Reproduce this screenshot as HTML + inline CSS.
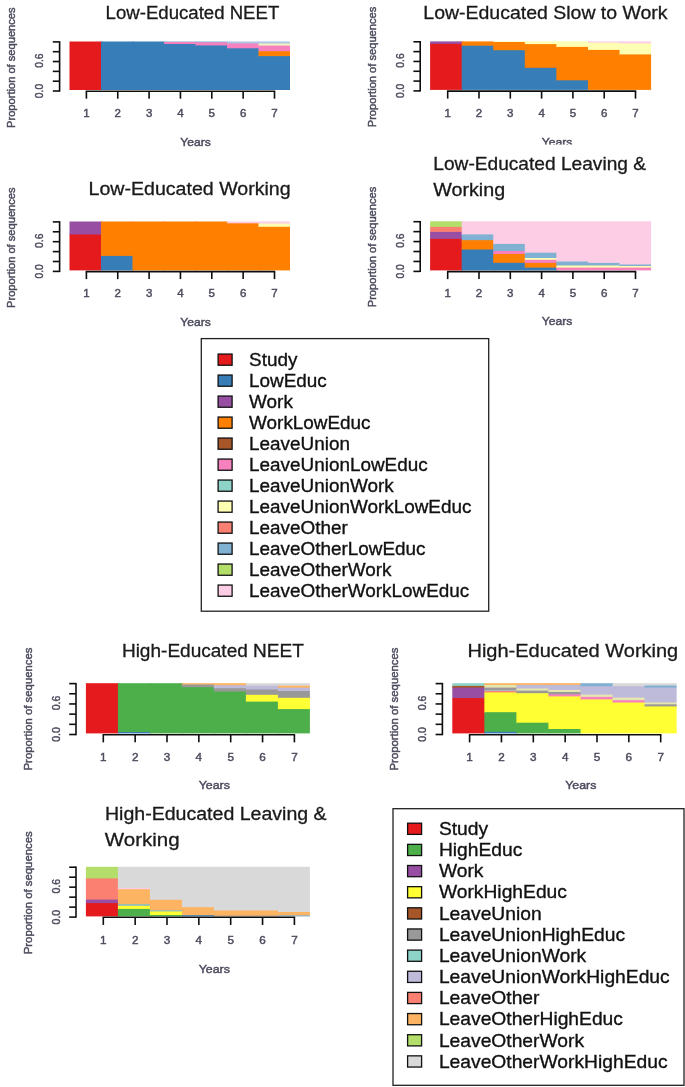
<!DOCTYPE html>
<html lang="en"><head><meta charset="utf-8"><title>Sequence state distribution plots</title>
<style>
html,body{margin:0;padding:0;background:#fff;}
body{width:685px;height:1087px;overflow:hidden;}
svg{display:block;font-family:"Liberation Sans",Arial,Helvetica,sans-serif;}
</style></head><body>
<svg width="685" height="1087" viewBox="0 0 685 1087">
<rect width="685" height="1087" fill="#fff"/>
<defs><clipPath id="cy2"><rect x="520" y="130" width="80" height="14.6"/></clipPath><filter id="b1" filterUnits="userSpaceOnUse" x="0" y="0" width="685" height="1087"><feGaussianBlur stdDeviation="0.45"/></filter><filter id="b2" filterUnits="userSpaceOnUse" x="0" y="0" width="685" height="1087"><feGaussianBlur stdDeviation="0.35"/></filter></defs>
<g><rect x="69.50" y="41.50" width="32.50" height="48.50" fill="#E41A1C"/>
<rect x="101.00" y="41.50" width="32.50" height="48.50" fill="#377EB8"/>
<rect x="132.50" y="41.50" width="32.50" height="48.50" fill="#377EB8"/>
<rect x="164.00" y="41.50" width="32.50" height="1.30" fill="#80B1D3"/>
<rect x="164.00" y="42.00" width="32.50" height="2.80" fill="#F781BF"/>
<rect x="164.00" y="44.00" width="32.50" height="46.00" fill="#377EB8"/>
<rect x="195.50" y="41.50" width="32.50" height="1.60" fill="#80B1D3"/>
<rect x="195.50" y="42.30" width="32.50" height="3.90" fill="#F781BF"/>
<rect x="195.50" y="45.40" width="32.50" height="44.60" fill="#377EB8"/>
<rect x="227.00" y="41.50" width="32.50" height="2.70" fill="#A9C4E4"/>
<rect x="227.00" y="43.40" width="32.50" height="5.70" fill="#F781BF"/>
<rect x="227.00" y="48.30" width="32.50" height="41.70" fill="#377EB8"/>
<rect x="258.50" y="41.50" width="31.50" height="2.70" fill="#A9C4E4"/>
<rect x="258.50" y="43.40" width="31.50" height="3.00" fill="#EEF2C0"/>
<rect x="258.50" y="45.60" width="31.50" height="6.40" fill="#F781BF"/>
<rect x="258.50" y="51.20" width="31.50" height="5.70" fill="#FF7F00"/>
<rect x="258.50" y="56.10" width="31.50" height="33.90" fill="#377EB8"/>
<rect x="430.10" y="41.40" width="32.57" height="3.30" fill="#984EA3"/>
<rect x="430.10" y="43.90" width="32.57" height="46.00" fill="#E41A1C"/>
<rect x="461.67" y="41.40" width="32.57" height="5.10" fill="#FF7F00"/>
<rect x="461.67" y="45.70" width="32.57" height="44.20" fill="#377EB8"/>
<rect x="493.24" y="41.40" width="32.57" height="1.40" fill="#FFFFB3"/>
<rect x="493.24" y="42.00" width="32.57" height="9.00" fill="#FF7F00"/>
<rect x="493.24" y="50.20" width="32.57" height="39.70" fill="#377EB8"/>
<rect x="524.81" y="41.40" width="32.57" height="3.50" fill="#FFFFB3"/>
<rect x="524.81" y="44.10" width="32.57" height="24.50" fill="#FF7F00"/>
<rect x="524.81" y="67.80" width="32.57" height="22.10" fill="#377EB8"/>
<rect x="556.38" y="41.40" width="32.57" height="6.30" fill="#FFFFB3"/>
<rect x="556.38" y="46.90" width="32.57" height="34.20" fill="#FF7F00"/>
<rect x="556.38" y="80.30" width="32.57" height="9.60" fill="#377EB8"/>
<rect x="587.95" y="41.40" width="32.57" height="2.10" fill="#FCCDE5"/>
<rect x="587.95" y="42.70" width="32.57" height="8.00" fill="#FFFFB3"/>
<rect x="587.95" y="49.90" width="32.57" height="40.00" fill="#FF7F00"/>
<rect x="619.52" y="41.40" width="31.57" height="2.80" fill="#FCCDE5"/>
<rect x="619.52" y="43.40" width="31.57" height="11.80" fill="#FFFFB3"/>
<rect x="619.52" y="54.40" width="31.57" height="35.50" fill="#FF7F00"/>
<rect x="69.50" y="221.50" width="32.50" height="13.80" fill="#984EA3"/>
<rect x="69.50" y="234.50" width="32.50" height="35.90" fill="#E41A1C"/>
<rect x="101.00" y="221.50" width="32.50" height="35.20" fill="#FF7F00"/>
<rect x="101.00" y="255.90" width="32.50" height="14.50" fill="#377EB8"/>
<rect x="132.50" y="221.50" width="32.50" height="48.90" fill="#FF7F00"/>
<rect x="164.00" y="221.50" width="32.50" height="48.90" fill="#FF7F00"/>
<rect x="195.50" y="221.50" width="32.50" height="48.90" fill="#FF7F00"/>
<rect x="227.00" y="221.50" width="32.50" height="2.60" fill="#FCCDE5"/>
<rect x="227.00" y="223.30" width="32.50" height="47.10" fill="#FF7F00"/>
<rect x="258.50" y="221.50" width="31.50" height="2.80" fill="#FCCDE5"/>
<rect x="258.50" y="223.50" width="31.50" height="4.10" fill="#FFFFB3"/>
<rect x="258.50" y="226.80" width="31.50" height="43.60" fill="#FF7F00"/>
<rect x="430.10" y="221.30" width="32.57" height="6.40" fill="#B3DE69"/>
<rect x="430.10" y="226.90" width="32.57" height="5.80" fill="#FB8072"/>
<rect x="430.10" y="231.90" width="32.57" height="7.80" fill="#984EA3"/>
<rect x="430.10" y="238.90" width="32.57" height="31.50" fill="#E41A1C"/>
<rect x="461.67" y="221.30" width="32.57" height="13.90" fill="#FCCDE5"/>
<rect x="461.67" y="234.40" width="32.57" height="6.60" fill="#80B1D3"/>
<rect x="461.67" y="240.20" width="32.57" height="10.10" fill="#FF7F00"/>
<rect x="461.67" y="249.50" width="32.57" height="20.90" fill="#377EB8"/>
<rect x="493.24" y="221.30" width="32.57" height="23.40" fill="#FCCDE5"/>
<rect x="493.24" y="243.90" width="32.57" height="7.90" fill="#80B1D3"/>
<rect x="493.24" y="251.00" width="32.57" height="3.80" fill="#F781BF"/>
<rect x="493.24" y="254.00" width="32.57" height="9.60" fill="#FF7F00"/>
<rect x="493.24" y="262.80" width="32.57" height="7.60" fill="#377EB8"/>
<rect x="524.81" y="221.30" width="32.57" height="32.20" fill="#FCCDE5"/>
<rect x="524.81" y="252.70" width="32.57" height="6.10" fill="#80B1D3"/>
<rect x="524.81" y="258.00" width="32.57" height="2.60" fill="#FFFFB3"/>
<rect x="524.81" y="259.80" width="32.57" height="3.90" fill="#F781BF"/>
<rect x="524.81" y="262.90" width="32.57" height="5.50" fill="#FF7F00"/>
<rect x="524.81" y="267.60" width="32.57" height="2.80" fill="#377EB8"/>
<rect x="556.38" y="221.30" width="32.57" height="41.00" fill="#FCCDE5"/>
<rect x="556.38" y="261.50" width="32.57" height="4.80" fill="#80B1D3"/>
<rect x="556.38" y="265.50" width="32.57" height="2.90" fill="#FFFFB3"/>
<rect x="556.38" y="267.60" width="32.57" height="2.80" fill="#F781BF"/>
<rect x="587.95" y="221.30" width="32.57" height="42.40" fill="#FCCDE5"/>
<rect x="587.95" y="262.90" width="32.57" height="3.40" fill="#80B1D3"/>
<rect x="587.95" y="265.50" width="32.57" height="2.90" fill="#FFFFB3"/>
<rect x="587.95" y="267.60" width="32.57" height="2.80" fill="#F781BF"/>
<rect x="619.52" y="221.30" width="31.57" height="44.00" fill="#FCCDE5"/>
<rect x="619.52" y="264.50" width="31.57" height="2.30" fill="#80B1D3"/>
<rect x="619.52" y="266.00" width="31.57" height="2.40" fill="#FFFFB3"/>
<rect x="619.52" y="267.60" width="31.57" height="2.80" fill="#F781BF"/>
<rect x="85.90" y="683.20" width="33.00" height="50.20" fill="#E41A1C"/>
<rect x="117.90" y="683.20" width="33.00" height="49.60" fill="#4DAF4A"/>
<rect x="117.90" y="732.00" width="33.00" height="1.40" fill="#377EB8"/>
<rect x="149.90" y="683.20" width="33.00" height="50.20" fill="#4DAF4A"/>
<rect x="181.90" y="683.20" width="33.00" height="2.10" fill="#FDB462"/>
<rect x="181.90" y="684.50" width="33.00" height="3.50" fill="#999999"/>
<rect x="181.90" y="687.20" width="33.00" height="46.20" fill="#4DAF4A"/>
<rect x="213.90" y="683.20" width="33.00" height="2.80" fill="#FDB462"/>
<rect x="213.90" y="685.20" width="33.00" height="3.80" fill="#BEBADA"/>
<rect x="213.90" y="688.20" width="33.00" height="4.10" fill="#999999"/>
<rect x="213.90" y="691.50" width="33.00" height="41.90" fill="#4DAF4A"/>
<rect x="245.90" y="683.20" width="33.00" height="3.30" fill="#D9D9D9"/>
<rect x="245.90" y="685.70" width="33.00" height="4.60" fill="#BEBADA"/>
<rect x="245.90" y="689.50" width="33.00" height="6.10" fill="#999999"/>
<rect x="245.90" y="694.80" width="33.00" height="7.60" fill="#FFFF33"/>
<rect x="245.90" y="701.60" width="33.00" height="31.80" fill="#4DAF4A"/>
<rect x="277.90" y="683.20" width="32.00" height="3.30" fill="#D9D9D9"/>
<rect x="277.90" y="685.70" width="32.00" height="2.80" fill="#FDB462"/>
<rect x="277.90" y="687.70" width="32.00" height="4.10" fill="#BEBADA"/>
<rect x="277.90" y="691.00" width="32.00" height="7.60" fill="#999999"/>
<rect x="277.90" y="697.80" width="32.00" height="12.10" fill="#FFFF33"/>
<rect x="277.90" y="709.10" width="32.00" height="24.30" fill="#4DAF4A"/>
<rect x="452.30" y="683.20" width="33.05" height="3.50" fill="#8DD3C7"/>
<rect x="452.30" y="685.90" width="33.05" height="2.50" fill="#A65628"/>
<rect x="452.30" y="687.60" width="33.05" height="11.30" fill="#984EA3"/>
<rect x="452.30" y="698.10" width="33.05" height="35.30" fill="#E41A1C"/>
<rect x="484.35" y="683.20" width="33.05" height="2.60" fill="#FDB462"/>
<rect x="484.35" y="685.00" width="33.05" height="3.40" fill="#E6E6B0"/>
<rect x="484.35" y="687.60" width="33.05" height="3.50" fill="#999999"/>
<rect x="484.35" y="690.30" width="33.05" height="1.60" fill="#BEBADA"/>
<rect x="484.35" y="691.10" width="33.05" height="2.10" fill="#FB8072"/>
<rect x="484.35" y="692.40" width="33.05" height="20.60" fill="#FFFF33"/>
<rect x="484.35" y="712.20" width="33.05" height="20.40" fill="#4DAF4A"/>
<rect x="484.35" y="731.80" width="33.05" height="1.60" fill="#377EB8"/>
<rect x="516.40" y="683.20" width="33.05" height="2.60" fill="#FDB462"/>
<rect x="516.40" y="685.00" width="33.05" height="4.30" fill="#BEBADA"/>
<rect x="516.40" y="688.50" width="33.05" height="2.90" fill="#E6E6B0"/>
<rect x="516.40" y="690.60" width="33.05" height="3.40" fill="#999999"/>
<rect x="516.40" y="693.20" width="33.05" height="30.30" fill="#FFFF33"/>
<rect x="516.40" y="722.70" width="33.05" height="10.70" fill="#4DAF4A"/>
<rect x="548.45" y="683.20" width="33.05" height="2.60" fill="#FDB462"/>
<rect x="548.45" y="685.00" width="33.05" height="5.70" fill="#BEBADA"/>
<rect x="548.45" y="689.90" width="33.05" height="2.90" fill="#E6E6B0"/>
<rect x="548.45" y="692.00" width="33.05" height="3.10" fill="#999999"/>
<rect x="548.45" y="694.30" width="33.05" height="2.90" fill="#F781BF"/>
<rect x="548.45" y="696.40" width="33.05" height="33.40" fill="#FFFF33"/>
<rect x="548.45" y="729.00" width="33.05" height="4.40" fill="#4DAF4A"/>
<rect x="580.50" y="683.20" width="33.05" height="3.80" fill="#80B1D3"/>
<rect x="580.50" y="686.20" width="33.05" height="9.20" fill="#BEBADA"/>
<rect x="580.50" y="694.60" width="33.05" height="3.10" fill="#E6E6B0"/>
<rect x="580.50" y="696.90" width="33.05" height="3.30" fill="#F781BF"/>
<rect x="580.50" y="699.40" width="33.05" height="34.00" fill="#FFFF33"/>
<rect x="612.55" y="683.20" width="33.05" height="3.80" fill="#D9D9D9"/>
<rect x="612.55" y="686.20" width="33.05" height="12.20" fill="#BEBADA"/>
<rect x="612.55" y="697.60" width="33.05" height="3.40" fill="#E6E6B0"/>
<rect x="612.55" y="700.20" width="33.05" height="3.10" fill="#F781BF"/>
<rect x="612.55" y="702.50" width="33.05" height="30.90" fill="#FFFF33"/>
<rect x="644.60" y="683.20" width="32.05" height="3.10" fill="#D9D9D9"/>
<rect x="644.60" y="685.50" width="32.05" height="2.90" fill="#80B1D3"/>
<rect x="644.60" y="687.60" width="32.05" height="15.70" fill="#BEBADA"/>
<rect x="644.60" y="702.50" width="32.05" height="2.60" fill="#E6E6B0"/>
<rect x="644.60" y="704.30" width="32.05" height="2.90" fill="#999999"/>
<rect x="644.60" y="706.40" width="32.05" height="27.00" fill="#FFFF33"/>
<rect x="85.90" y="866.80" width="33.00" height="12.40" fill="#B3DE69"/>
<rect x="85.90" y="878.40" width="33.00" height="22.00" fill="#FB8072"/>
<rect x="85.90" y="899.60" width="33.00" height="4.30" fill="#984EA3"/>
<rect x="85.90" y="903.10" width="33.00" height="13.30" fill="#E41A1C"/>
<rect x="117.90" y="866.80" width="33.00" height="21.90" fill="#D9D9D9"/>
<rect x="117.90" y="887.90" width="33.00" height="2.10" fill="#FCCDE5"/>
<rect x="117.90" y="889.20" width="33.00" height="15.60" fill="#FDB462"/>
<rect x="117.90" y="904.00" width="33.00" height="2.70" fill="#9DBFB0"/>
<rect x="117.90" y="905.90" width="33.00" height="3.80" fill="#FFFF33"/>
<rect x="117.90" y="908.90" width="33.00" height="7.50" fill="#4DAF4A"/>
<rect x="149.90" y="866.80" width="33.00" height="33.80" fill="#D9D9D9"/>
<rect x="149.90" y="899.80" width="33.00" height="11.10" fill="#FDB462"/>
<rect x="149.90" y="910.10" width="33.00" height="2.20" fill="#9DBFB0"/>
<rect x="149.90" y="911.50" width="33.00" height="4.30" fill="#FFFF33"/>
<rect x="149.90" y="915.00" width="33.00" height="1.40" fill="#4DAF4A"/>
<rect x="181.90" y="866.80" width="33.00" height="41.20" fill="#D9D9D9"/>
<rect x="181.90" y="907.20" width="33.00" height="8.80" fill="#FDB462"/>
<rect x="181.90" y="915.20" width="33.00" height="1.20" fill="#377EB8"/>
<rect x="213.90" y="866.80" width="33.00" height="44.50" fill="#D9D9D9"/>
<rect x="213.90" y="910.50" width="33.00" height="5.90" fill="#FDB462"/>
<rect x="213.90" y="915.60" width="33.00" height="0.80" fill="#999999"/>
<rect x="245.90" y="866.80" width="33.00" height="44.50" fill="#D9D9D9"/>
<rect x="245.90" y="910.50" width="33.00" height="5.90" fill="#FDB462"/>
<rect x="245.90" y="915.60" width="33.00" height="0.80" fill="#999999"/>
<rect x="277.90" y="866.80" width="32.00" height="46.00" fill="#D9D9D9"/>
<rect x="277.90" y="912.00" width="32.00" height="4.10" fill="#FDB462"/>
<rect x="277.90" y="915.30" width="32.00" height="1.10" fill="#80B1D3"/></g>
<g filter="url(#b2)"><path d="M59.60 41.20V91.70" stroke="#111" stroke-width="1.6" fill="none"/>
<path d="M59.60 41.90h-6.80" stroke="#111" stroke-width="1.6" fill="none"/>
<path d="M59.60 51.72h-6.80" stroke="#111" stroke-width="1.6" fill="none"/>
<path d="M59.60 61.54h-6.80" stroke="#111" stroke-width="1.6" fill="none"/>
<path d="M59.60 71.36h-6.80" stroke="#111" stroke-width="1.6" fill="none"/>
<path d="M59.60 81.18h-6.80" stroke="#111" stroke-width="1.6" fill="none"/>
<path d="M59.60 91.00h-6.80" stroke="#111" stroke-width="1.6" fill="none"/>
<path d="M85.70 91.20H275.20" stroke="#111" stroke-width="1.6" fill="none"/>
<path d="M86.40 91.20v7.50" stroke="#111" stroke-width="1.6" fill="none"/>
<path d="M117.75 91.20v7.50" stroke="#111" stroke-width="1.6" fill="none"/>
<path d="M149.10 91.20v7.50" stroke="#111" stroke-width="1.6" fill="none"/>
<path d="M180.45 91.20v7.50" stroke="#111" stroke-width="1.6" fill="none"/>
<path d="M211.80 91.20v7.50" stroke="#111" stroke-width="1.6" fill="none"/>
<path d="M243.15 91.20v7.50" stroke="#111" stroke-width="1.6" fill="none"/>
<path d="M274.50 91.20v7.50" stroke="#111" stroke-width="1.6" fill="none"/>
<path d="M420.20 41.10V91.60" stroke="#111" stroke-width="1.6" fill="none"/>
<path d="M420.20 41.80h-6.80" stroke="#111" stroke-width="1.6" fill="none"/>
<path d="M420.20 51.62h-6.80" stroke="#111" stroke-width="1.6" fill="none"/>
<path d="M420.20 61.44h-6.80" stroke="#111" stroke-width="1.6" fill="none"/>
<path d="M420.20 71.26h-6.80" stroke="#111" stroke-width="1.6" fill="none"/>
<path d="M420.20 81.08h-6.80" stroke="#111" stroke-width="1.6" fill="none"/>
<path d="M420.20 90.90h-6.80" stroke="#111" stroke-width="1.6" fill="none"/>
<path d="M447.00 91.10H636.20" stroke="#111" stroke-width="1.6" fill="none"/>
<path d="M447.70 91.10v7.50" stroke="#111" stroke-width="1.6" fill="none"/>
<path d="M479.00 91.10v7.50" stroke="#111" stroke-width="1.6" fill="none"/>
<path d="M510.30 91.10v7.50" stroke="#111" stroke-width="1.6" fill="none"/>
<path d="M541.60 91.10v7.50" stroke="#111" stroke-width="1.6" fill="none"/>
<path d="M572.90 91.10v7.50" stroke="#111" stroke-width="1.6" fill="none"/>
<path d="M604.20 91.10v7.50" stroke="#111" stroke-width="1.6" fill="none"/>
<path d="M635.50 91.10v7.50" stroke="#111" stroke-width="1.6" fill="none"/>
<path d="M59.60 221.20V272.10" stroke="#111" stroke-width="1.6" fill="none"/>
<path d="M59.60 221.90h-6.80" stroke="#111" stroke-width="1.6" fill="none"/>
<path d="M59.60 231.80h-6.80" stroke="#111" stroke-width="1.6" fill="none"/>
<path d="M59.60 241.70h-6.80" stroke="#111" stroke-width="1.6" fill="none"/>
<path d="M59.60 251.60h-6.80" stroke="#111" stroke-width="1.6" fill="none"/>
<path d="M59.60 261.50h-6.80" stroke="#111" stroke-width="1.6" fill="none"/>
<path d="M59.60 271.40h-6.80" stroke="#111" stroke-width="1.6" fill="none"/>
<path d="M85.70 271.60H275.20" stroke="#111" stroke-width="1.6" fill="none"/>
<path d="M86.40 271.60v7.50" stroke="#111" stroke-width="1.6" fill="none"/>
<path d="M117.75 271.60v7.50" stroke="#111" stroke-width="1.6" fill="none"/>
<path d="M149.10 271.60v7.50" stroke="#111" stroke-width="1.6" fill="none"/>
<path d="M180.45 271.60v7.50" stroke="#111" stroke-width="1.6" fill="none"/>
<path d="M211.80 271.60v7.50" stroke="#111" stroke-width="1.6" fill="none"/>
<path d="M243.15 271.60v7.50" stroke="#111" stroke-width="1.6" fill="none"/>
<path d="M274.50 271.60v7.50" stroke="#111" stroke-width="1.6" fill="none"/>
<path d="M420.20 221.00V272.10" stroke="#111" stroke-width="1.6" fill="none"/>
<path d="M420.20 221.70h-6.80" stroke="#111" stroke-width="1.6" fill="none"/>
<path d="M420.20 231.64h-6.80" stroke="#111" stroke-width="1.6" fill="none"/>
<path d="M420.20 241.58h-6.80" stroke="#111" stroke-width="1.6" fill="none"/>
<path d="M420.20 251.52h-6.80" stroke="#111" stroke-width="1.6" fill="none"/>
<path d="M420.20 261.46h-6.80" stroke="#111" stroke-width="1.6" fill="none"/>
<path d="M420.20 271.40h-6.80" stroke="#111" stroke-width="1.6" fill="none"/>
<path d="M447.00 271.60H636.20" stroke="#111" stroke-width="1.6" fill="none"/>
<path d="M447.70 271.60v7.50" stroke="#111" stroke-width="1.6" fill="none"/>
<path d="M479.00 271.60v7.50" stroke="#111" stroke-width="1.6" fill="none"/>
<path d="M510.30 271.60v7.50" stroke="#111" stroke-width="1.6" fill="none"/>
<path d="M541.60 271.60v7.50" stroke="#111" stroke-width="1.6" fill="none"/>
<path d="M572.90 271.60v7.50" stroke="#111" stroke-width="1.6" fill="none"/>
<path d="M604.20 271.60v7.50" stroke="#111" stroke-width="1.6" fill="none"/>
<path d="M635.50 271.60v7.50" stroke="#111" stroke-width="1.6" fill="none"/>
<path d="M76.00 682.90V735.20" stroke="#111" stroke-width="1.6" fill="none"/>
<path d="M76.00 683.60h-6.80" stroke="#111" stroke-width="1.6" fill="none"/>
<path d="M76.00 693.78h-6.80" stroke="#111" stroke-width="1.6" fill="none"/>
<path d="M76.00 703.96h-6.80" stroke="#111" stroke-width="1.6" fill="none"/>
<path d="M76.00 714.14h-6.80" stroke="#111" stroke-width="1.6" fill="none"/>
<path d="M76.00 724.32h-6.80" stroke="#111" stroke-width="1.6" fill="none"/>
<path d="M76.00 734.50h-6.80" stroke="#111" stroke-width="1.6" fill="none"/>
<path d="M102.60 734.70H295.10" stroke="#111" stroke-width="1.6" fill="none"/>
<path d="M103.30 734.70v7.65" stroke="#111" stroke-width="1.6" fill="none"/>
<path d="M135.15 734.70v7.65" stroke="#111" stroke-width="1.6" fill="none"/>
<path d="M167.00 734.70v7.65" stroke="#111" stroke-width="1.6" fill="none"/>
<path d="M198.85 734.70v7.65" stroke="#111" stroke-width="1.6" fill="none"/>
<path d="M230.70 734.70v7.65" stroke="#111" stroke-width="1.6" fill="none"/>
<path d="M262.55 734.70v7.65" stroke="#111" stroke-width="1.6" fill="none"/>
<path d="M294.40 734.70v7.65" stroke="#111" stroke-width="1.6" fill="none"/>
<path d="M442.40 682.90V735.20" stroke="#111" stroke-width="1.6" fill="none"/>
<path d="M442.40 683.60h-6.80" stroke="#111" stroke-width="1.6" fill="none"/>
<path d="M442.40 693.78h-6.80" stroke="#111" stroke-width="1.6" fill="none"/>
<path d="M442.40 703.96h-6.80" stroke="#111" stroke-width="1.6" fill="none"/>
<path d="M442.40 714.14h-6.80" stroke="#111" stroke-width="1.6" fill="none"/>
<path d="M442.40 724.32h-6.80" stroke="#111" stroke-width="1.6" fill="none"/>
<path d="M442.40 734.50h-6.80" stroke="#111" stroke-width="1.6" fill="none"/>
<path d="M468.90 734.70H661.40" stroke="#111" stroke-width="1.6" fill="none"/>
<path d="M469.60 734.70v7.65" stroke="#111" stroke-width="1.6" fill="none"/>
<path d="M501.45 734.70v7.65" stroke="#111" stroke-width="1.6" fill="none"/>
<path d="M533.30 734.70v7.65" stroke="#111" stroke-width="1.6" fill="none"/>
<path d="M565.15 734.70v7.65" stroke="#111" stroke-width="1.6" fill="none"/>
<path d="M597.00 734.70v7.65" stroke="#111" stroke-width="1.6" fill="none"/>
<path d="M628.85 734.70v7.65" stroke="#111" stroke-width="1.6" fill="none"/>
<path d="M660.70 734.70v7.65" stroke="#111" stroke-width="1.6" fill="none"/>
<path d="M76.00 866.50V917.80" stroke="#111" stroke-width="1.6" fill="none"/>
<path d="M76.00 867.20h-6.80" stroke="#111" stroke-width="1.6" fill="none"/>
<path d="M76.00 877.18h-6.80" stroke="#111" stroke-width="1.6" fill="none"/>
<path d="M76.00 887.16h-6.80" stroke="#111" stroke-width="1.6" fill="none"/>
<path d="M76.00 897.14h-6.80" stroke="#111" stroke-width="1.6" fill="none"/>
<path d="M76.00 907.12h-6.80" stroke="#111" stroke-width="1.6" fill="none"/>
<path d="M76.00 917.10h-6.80" stroke="#111" stroke-width="1.6" fill="none"/>
<path d="M102.60 917.30H295.10" stroke="#111" stroke-width="1.6" fill="none"/>
<path d="M103.30 917.30v7.65" stroke="#111" stroke-width="1.6" fill="none"/>
<path d="M135.15 917.30v7.65" stroke="#111" stroke-width="1.6" fill="none"/>
<path d="M167.00 917.30v7.65" stroke="#111" stroke-width="1.6" fill="none"/>
<path d="M198.85 917.30v7.65" stroke="#111" stroke-width="1.6" fill="none"/>
<path d="M230.70 917.30v7.65" stroke="#111" stroke-width="1.6" fill="none"/>
<path d="M262.55 917.30v7.65" stroke="#111" stroke-width="1.6" fill="none"/>
<path d="M294.40 917.30v7.65" stroke="#111" stroke-width="1.6" fill="none"/></g>
<g filter="url(#b1)"><text x="86.40" y="117.40" font-size="11.50" text-anchor="middle" fill="#4c4c5e" stroke="#4c4c5e" stroke-width="0.45">1</text>
<text x="117.75" y="117.40" font-size="11.50" text-anchor="middle" fill="#4c4c5e" stroke="#4c4c5e" stroke-width="0.45">2</text>
<text x="149.10" y="117.40" font-size="11.50" text-anchor="middle" fill="#4c4c5e" stroke="#4c4c5e" stroke-width="0.45">3</text>
<text x="180.45" y="117.40" font-size="11.50" text-anchor="middle" fill="#4c4c5e" stroke="#4c4c5e" stroke-width="0.45">4</text>
<text x="211.80" y="117.40" font-size="11.50" text-anchor="middle" fill="#4c4c5e" stroke="#4c4c5e" stroke-width="0.45">5</text>
<text x="243.15" y="117.40" font-size="11.50" text-anchor="middle" fill="#4c4c5e" stroke="#4c4c5e" stroke-width="0.45">6</text>
<text x="274.50" y="117.40" font-size="11.50" text-anchor="middle" fill="#4c4c5e" stroke="#4c4c5e" stroke-width="0.45">7</text>
<text x="180.20" y="145.60" font-size="11.50" textLength="30.60" lengthAdjust="spacingAndGlyphs" fill="#4c4c5e" stroke="#4c4c5e" stroke-width="0.45">Years</text>
<text transform="translate(43.30 91.00) rotate(-90)" font-size="11.50" text-anchor="middle" textLength="14.30" lengthAdjust="spacingAndGlyphs" fill="#4c4c5e" stroke="#4c4c5e" stroke-width="0.45">0.0</text>
<text transform="translate(43.30 60.64) rotate(-90)" font-size="11.50" text-anchor="middle" textLength="14.30" lengthAdjust="spacingAndGlyphs" fill="#4c4c5e" stroke="#4c4c5e" stroke-width="0.45">0.6</text>
<text transform="translate(15.20 67.70) rotate(-90)" font-size="11.50" text-anchor="middle" textLength="120.50" lengthAdjust="spacingAndGlyphs" fill="#4c4c5e" stroke="#4c4c5e" stroke-width="0.45">Proportion of sequences</text>
<text x="447.70" y="117.30" font-size="11.50" text-anchor="middle" fill="#4c4c5e" stroke="#4c4c5e" stroke-width="0.45">1</text>
<text x="479.00" y="117.30" font-size="11.50" text-anchor="middle" fill="#4c4c5e" stroke="#4c4c5e" stroke-width="0.45">2</text>
<text x="510.30" y="117.30" font-size="11.50" text-anchor="middle" fill="#4c4c5e" stroke="#4c4c5e" stroke-width="0.45">3</text>
<text x="541.60" y="117.30" font-size="11.50" text-anchor="middle" fill="#4c4c5e" stroke="#4c4c5e" stroke-width="0.45">4</text>
<text x="572.90" y="117.30" font-size="11.50" text-anchor="middle" fill="#4c4c5e" stroke="#4c4c5e" stroke-width="0.45">5</text>
<text x="604.20" y="117.30" font-size="11.50" text-anchor="middle" fill="#4c4c5e" stroke="#4c4c5e" stroke-width="0.45">6</text>
<text x="635.50" y="117.30" font-size="11.50" text-anchor="middle" fill="#4c4c5e" stroke="#4c4c5e" stroke-width="0.45">7</text>
<text x="541.70" y="145.50" font-size="11.50" textLength="30.60" lengthAdjust="spacingAndGlyphs" fill="#4c4c5e" stroke="#4c4c5e" stroke-width="0.45" clip-path="url(#cy2)">Years</text>
<text transform="translate(403.90 90.90) rotate(-90)" font-size="11.50" text-anchor="middle" textLength="14.30" lengthAdjust="spacingAndGlyphs" fill="#4c4c5e" stroke="#4c4c5e" stroke-width="0.45">0.0</text>
<text transform="translate(403.90 60.54) rotate(-90)" font-size="11.50" text-anchor="middle" textLength="14.30" lengthAdjust="spacingAndGlyphs" fill="#4c4c5e" stroke="#4c4c5e" stroke-width="0.45">0.6</text>
<text transform="translate(375.80 67.00) rotate(-90)" font-size="11.50" text-anchor="middle" textLength="120.50" lengthAdjust="spacingAndGlyphs" fill="#4c4c5e" stroke="#4c4c5e" stroke-width="0.45">Proportion of sequences</text>
<text x="86.40" y="297.40" font-size="11.50" text-anchor="middle" fill="#4c4c5e" stroke="#4c4c5e" stroke-width="0.45">1</text>
<text x="117.75" y="297.40" font-size="11.50" text-anchor="middle" fill="#4c4c5e" stroke="#4c4c5e" stroke-width="0.45">2</text>
<text x="149.10" y="297.40" font-size="11.50" text-anchor="middle" fill="#4c4c5e" stroke="#4c4c5e" stroke-width="0.45">3</text>
<text x="180.45" y="297.40" font-size="11.50" text-anchor="middle" fill="#4c4c5e" stroke="#4c4c5e" stroke-width="0.45">4</text>
<text x="211.80" y="297.40" font-size="11.50" text-anchor="middle" fill="#4c4c5e" stroke="#4c4c5e" stroke-width="0.45">5</text>
<text x="243.15" y="297.40" font-size="11.50" text-anchor="middle" fill="#4c4c5e" stroke="#4c4c5e" stroke-width="0.45">6</text>
<text x="274.50" y="297.40" font-size="11.50" text-anchor="middle" fill="#4c4c5e" stroke="#4c4c5e" stroke-width="0.45">7</text>
<text x="180.20" y="325.60" font-size="11.50" textLength="30.60" lengthAdjust="spacingAndGlyphs" fill="#4c4c5e" stroke="#4c4c5e" stroke-width="0.45">Years</text>
<text transform="translate(43.30 271.40) rotate(-90)" font-size="11.50" text-anchor="middle" textLength="14.30" lengthAdjust="spacingAndGlyphs" fill="#4c4c5e" stroke="#4c4c5e" stroke-width="0.45">0.0</text>
<text transform="translate(43.30 240.80) rotate(-90)" font-size="11.50" text-anchor="middle" textLength="14.30" lengthAdjust="spacingAndGlyphs" fill="#4c4c5e" stroke="#4c4c5e" stroke-width="0.45">0.6</text>
<text transform="translate(15.20 247.70) rotate(-90)" font-size="11.50" text-anchor="middle" textLength="120.50" lengthAdjust="spacingAndGlyphs" fill="#4c4c5e" stroke="#4c4c5e" stroke-width="0.45">Proportion of sequences</text>
<text x="447.70" y="297.20" font-size="11.50" text-anchor="middle" fill="#4c4c5e" stroke="#4c4c5e" stroke-width="0.45">1</text>
<text x="479.00" y="297.20" font-size="11.50" text-anchor="middle" fill="#4c4c5e" stroke="#4c4c5e" stroke-width="0.45">2</text>
<text x="510.30" y="297.20" font-size="11.50" text-anchor="middle" fill="#4c4c5e" stroke="#4c4c5e" stroke-width="0.45">3</text>
<text x="541.60" y="297.20" font-size="11.50" text-anchor="middle" fill="#4c4c5e" stroke="#4c4c5e" stroke-width="0.45">4</text>
<text x="572.90" y="297.20" font-size="11.50" text-anchor="middle" fill="#4c4c5e" stroke="#4c4c5e" stroke-width="0.45">5</text>
<text x="604.20" y="297.20" font-size="11.50" text-anchor="middle" fill="#4c4c5e" stroke="#4c4c5e" stroke-width="0.45">6</text>
<text x="635.50" y="297.20" font-size="11.50" text-anchor="middle" fill="#4c4c5e" stroke="#4c4c5e" stroke-width="0.45">7</text>
<text x="541.70" y="325.40" font-size="11.50" textLength="30.60" lengthAdjust="spacingAndGlyphs" fill="#4c4c5e" stroke="#4c4c5e" stroke-width="0.45">Years</text>
<text transform="translate(403.90 271.40) rotate(-90)" font-size="11.50" text-anchor="middle" textLength="14.30" lengthAdjust="spacingAndGlyphs" fill="#4c4c5e" stroke="#4c4c5e" stroke-width="0.45">0.0</text>
<text transform="translate(403.90 240.68) rotate(-90)" font-size="11.50" text-anchor="middle" textLength="14.30" lengthAdjust="spacingAndGlyphs" fill="#4c4c5e" stroke="#4c4c5e" stroke-width="0.45">0.6</text>
<text transform="translate(375.80 247.00) rotate(-90)" font-size="11.50" text-anchor="middle" textLength="120.50" lengthAdjust="spacingAndGlyphs" fill="#4c4c5e" stroke="#4c4c5e" stroke-width="0.45">Proportion of sequences</text>
<text x="103.30" y="760.62" font-size="11.73" text-anchor="middle" fill="#4c4c5e" stroke="#4c4c5e" stroke-width="0.45">1</text>
<text x="135.15" y="760.62" font-size="11.73" text-anchor="middle" fill="#4c4c5e" stroke="#4c4c5e" stroke-width="0.45">2</text>
<text x="167.00" y="760.62" font-size="11.73" text-anchor="middle" fill="#4c4c5e" stroke="#4c4c5e" stroke-width="0.45">3</text>
<text x="198.85" y="760.62" font-size="11.73" text-anchor="middle" fill="#4c4c5e" stroke="#4c4c5e" stroke-width="0.45">4</text>
<text x="230.70" y="760.62" font-size="11.73" text-anchor="middle" fill="#4c4c5e" stroke="#4c4c5e" stroke-width="0.45">5</text>
<text x="262.55" y="760.62" font-size="11.73" text-anchor="middle" fill="#4c4c5e" stroke="#4c4c5e" stroke-width="0.45">6</text>
<text x="294.40" y="760.62" font-size="11.73" text-anchor="middle" fill="#4c4c5e" stroke="#4c4c5e" stroke-width="0.45">7</text>
<text x="198.69" y="789.38" font-size="11.73" textLength="31.21" lengthAdjust="spacingAndGlyphs" fill="#4c4c5e" stroke="#4c4c5e" stroke-width="0.45">Years</text>
<text transform="translate(59.70 734.50) rotate(-90)" font-size="11.73" text-anchor="middle" textLength="14.59" lengthAdjust="spacingAndGlyphs" fill="#4c4c5e" stroke="#4c4c5e" stroke-width="0.45">0.0</text>
<text transform="translate(59.70 703.06) rotate(-90)" font-size="11.73" text-anchor="middle" textLength="14.59" lengthAdjust="spacingAndGlyphs" fill="#4c4c5e" stroke="#4c4c5e" stroke-width="0.45">0.6</text>
<text transform="translate(31.60 709.00) rotate(-90)" font-size="11.73" text-anchor="middle" textLength="122.91" lengthAdjust="spacingAndGlyphs" fill="#4c4c5e" stroke="#4c4c5e" stroke-width="0.45">Proportion of sequences</text>
<text x="469.60" y="760.62" font-size="11.73" text-anchor="middle" fill="#4c4c5e" stroke="#4c4c5e" stroke-width="0.45">1</text>
<text x="501.45" y="760.62" font-size="11.73" text-anchor="middle" fill="#4c4c5e" stroke="#4c4c5e" stroke-width="0.45">2</text>
<text x="533.30" y="760.62" font-size="11.73" text-anchor="middle" fill="#4c4c5e" stroke="#4c4c5e" stroke-width="0.45">3</text>
<text x="565.15" y="760.62" font-size="11.73" text-anchor="middle" fill="#4c4c5e" stroke="#4c4c5e" stroke-width="0.45">4</text>
<text x="597.00" y="760.62" font-size="11.73" text-anchor="middle" fill="#4c4c5e" stroke="#4c4c5e" stroke-width="0.45">5</text>
<text x="628.85" y="760.62" font-size="11.73" text-anchor="middle" fill="#4c4c5e" stroke="#4c4c5e" stroke-width="0.45">6</text>
<text x="660.70" y="760.62" font-size="11.73" text-anchor="middle" fill="#4c4c5e" stroke="#4c4c5e" stroke-width="0.45">7</text>
<text x="565.19" y="789.38" font-size="11.73" textLength="31.21" lengthAdjust="spacingAndGlyphs" fill="#4c4c5e" stroke="#4c4c5e" stroke-width="0.45">Years</text>
<text transform="translate(426.10 734.50) rotate(-90)" font-size="11.73" text-anchor="middle" textLength="14.59" lengthAdjust="spacingAndGlyphs" fill="#4c4c5e" stroke="#4c4c5e" stroke-width="0.45">0.0</text>
<text transform="translate(426.10 703.06) rotate(-90)" font-size="11.73" text-anchor="middle" textLength="14.59" lengthAdjust="spacingAndGlyphs" fill="#4c4c5e" stroke="#4c4c5e" stroke-width="0.45">0.6</text>
<text transform="translate(398.00 709.00) rotate(-90)" font-size="11.73" text-anchor="middle" textLength="122.91" lengthAdjust="spacingAndGlyphs" fill="#4c4c5e" stroke="#4c4c5e" stroke-width="0.45">Proportion of sequences</text>
<text x="103.30" y="944.22" font-size="11.73" text-anchor="middle" fill="#4c4c5e" stroke="#4c4c5e" stroke-width="0.45">1</text>
<text x="135.15" y="944.22" font-size="11.73" text-anchor="middle" fill="#4c4c5e" stroke="#4c4c5e" stroke-width="0.45">2</text>
<text x="167.00" y="944.22" font-size="11.73" text-anchor="middle" fill="#4c4c5e" stroke="#4c4c5e" stroke-width="0.45">3</text>
<text x="198.85" y="944.22" font-size="11.73" text-anchor="middle" fill="#4c4c5e" stroke="#4c4c5e" stroke-width="0.45">4</text>
<text x="230.70" y="944.22" font-size="11.73" text-anchor="middle" fill="#4c4c5e" stroke="#4c4c5e" stroke-width="0.45">5</text>
<text x="262.55" y="944.22" font-size="11.73" text-anchor="middle" fill="#4c4c5e" stroke="#4c4c5e" stroke-width="0.45">6</text>
<text x="294.40" y="944.22" font-size="11.73" text-anchor="middle" fill="#4c4c5e" stroke="#4c4c5e" stroke-width="0.45">7</text>
<text x="198.69" y="972.98" font-size="11.73" textLength="31.21" lengthAdjust="spacingAndGlyphs" fill="#4c4c5e" stroke="#4c4c5e" stroke-width="0.45">Years</text>
<text transform="translate(59.70 917.10) rotate(-90)" font-size="11.73" text-anchor="middle" textLength="14.59" lengthAdjust="spacingAndGlyphs" fill="#4c4c5e" stroke="#4c4c5e" stroke-width="0.45">0.0</text>
<text transform="translate(59.70 886.26) rotate(-90)" font-size="11.73" text-anchor="middle" textLength="14.59" lengthAdjust="spacingAndGlyphs" fill="#4c4c5e" stroke="#4c4c5e" stroke-width="0.45">0.6</text>
<text transform="translate(31.60 892.80) rotate(-90)" font-size="11.73" text-anchor="middle" textLength="122.91" lengthAdjust="spacingAndGlyphs" fill="#4c4c5e" stroke="#4c4c5e" stroke-width="0.45">Proportion of sequences</text></g>
<g filter="url(#b2)"><text x="105.60" y="18.50" font-size="18.0" textLength="173.70" lengthAdjust="spacingAndGlyphs" fill="#1a1a1a" stroke="#1a1a1a" stroke-width="0.3">Low-Educated NEET</text>
<text x="423.30" y="18.50" font-size="17.8" textLength="244.30" lengthAdjust="spacingAndGlyphs" fill="#1a1a1a" stroke="#1a1a1a" stroke-width="0.3">Low-Educated Slow to Work</text>
<text x="88.50" y="195.20" font-size="18.0" textLength="202.10" lengthAdjust="spacingAndGlyphs" fill="#1a1a1a" stroke="#1a1a1a" stroke-width="0.3">Low-Educated Working</text>
<text x="433.30" y="169.70" font-size="17.7" textLength="212.70" lengthAdjust="spacingAndGlyphs" fill="#1a1a1a" stroke="#1a1a1a" stroke-width="0.3">Low-Educated Leaving &amp;</text>
<text x="433.30" y="196.30" font-size="17.7" textLength="71.80" lengthAdjust="spacingAndGlyphs" fill="#1a1a1a" stroke="#1a1a1a" stroke-width="0.3">Working</text>
<text x="121.90" y="656.90" font-size="18.3" textLength="182.00" lengthAdjust="spacingAndGlyphs" fill="#1a1a1a" stroke="#1a1a1a" stroke-width="0.3">High-Educated NEET</text>
<text x="467.50" y="657.40" font-size="18.3" textLength="210.70" lengthAdjust="spacingAndGlyphs" fill="#1a1a1a" stroke="#1a1a1a" stroke-width="0.3">High-Educated Working</text>
<text x="105.00" y="819.80" font-size="18.0" textLength="221.60" lengthAdjust="spacingAndGlyphs" fill="#1a1a1a" stroke="#1a1a1a" stroke-width="0.3">High-Educated Leaving &amp;</text>
<text x="104.80" y="846.20" font-size="18.0" textLength="74.80" lengthAdjust="spacingAndGlyphs" fill="#1a1a1a" stroke="#1a1a1a" stroke-width="0.3">Working</text></g>
<g><rect x="201.30" y="338.60" width="287.40" height="272.60" fill="#fff" stroke="#222" stroke-width="1.3"/>
<rect x="218.10" y="354.05" width="14.00" height="11.20" fill="#E41A1C" stroke="#111" stroke-width="1.3"/>
<text x="249.10" y="365.85" font-size="18.9" fill="#111" stroke="#111" stroke-width="0.35">Study</text>
<rect x="218.10" y="375.05" width="14.00" height="11.20" fill="#377EB8" stroke="#111" stroke-width="1.3"/>
<text x="249.10" y="386.85" font-size="18.9" fill="#111" stroke="#111" stroke-width="0.35">LowEduc</text>
<rect x="218.10" y="396.05" width="14.00" height="11.20" fill="#984EA3" stroke="#111" stroke-width="1.3"/>
<text x="249.10" y="407.85" font-size="18.9" fill="#111" stroke="#111" stroke-width="0.35">Work</text>
<rect x="218.10" y="417.05" width="14.00" height="11.20" fill="#FF7F00" stroke="#111" stroke-width="1.3"/>
<text x="249.10" y="428.85" font-size="18.9" fill="#111" stroke="#111" stroke-width="0.35">WorkLowEduc</text>
<rect x="218.10" y="438.05" width="14.00" height="11.20" fill="#A65628" stroke="#111" stroke-width="1.3"/>
<text x="249.10" y="449.85" font-size="18.9" fill="#111" stroke="#111" stroke-width="0.35">LeaveUnion</text>
<rect x="218.10" y="459.05" width="14.00" height="11.20" fill="#F781BF" stroke="#111" stroke-width="1.3"/>
<text x="249.10" y="470.85" font-size="18.9" fill="#111" stroke="#111" stroke-width="0.35">LeaveUnionLowEduc</text>
<rect x="218.10" y="480.05" width="14.00" height="11.20" fill="#8DD3C7" stroke="#111" stroke-width="1.3"/>
<text x="249.10" y="491.85" font-size="18.9" fill="#111" stroke="#111" stroke-width="0.35">LeaveUnionWork</text>
<rect x="218.10" y="501.05" width="14.00" height="11.20" fill="#FFFFB3" stroke="#111" stroke-width="1.3"/>
<text x="249.10" y="512.85" font-size="18.9" fill="#111" stroke="#111" stroke-width="0.35">LeaveUnionWorkLowEduc</text>
<rect x="218.10" y="522.05" width="14.00" height="11.20" fill="#FB8072" stroke="#111" stroke-width="1.3"/>
<text x="249.10" y="533.85" font-size="18.9" fill="#111" stroke="#111" stroke-width="0.35">LeaveOther</text>
<rect x="218.10" y="543.05" width="14.00" height="11.20" fill="#80B1D3" stroke="#111" stroke-width="1.3"/>
<text x="249.10" y="554.85" font-size="18.9" fill="#111" stroke="#111" stroke-width="0.35">LeaveOtherLowEduc</text>
<rect x="218.10" y="564.05" width="14.00" height="11.20" fill="#B3DE69" stroke="#111" stroke-width="1.3"/>
<text x="249.10" y="575.85" font-size="18.9" fill="#111" stroke="#111" stroke-width="0.35">LeaveOtherWork</text>
<rect x="218.10" y="585.05" width="14.00" height="11.20" fill="#FCCDE5" stroke="#111" stroke-width="1.3"/>
<text x="249.10" y="596.85" font-size="18.9" fill="#111" stroke="#111" stroke-width="0.35">LeaveOtherWorkLowEduc</text>
<rect x="393.00" y="808.70" width="291.00" height="276.60" fill="#fff" stroke="#222" stroke-width="1.3"/>
<rect x="407.60" y="823.20" width="14.00" height="11.20" fill="#E41A1C" stroke="#111" stroke-width="1.3"/>
<text x="438.90" y="835.00" font-size="19.25" fill="#111" stroke="#111" stroke-width="0.35">Study</text>
<rect x="407.60" y="844.35" width="14.00" height="11.20" fill="#4DAF4A" stroke="#111" stroke-width="1.3"/>
<text x="438.90" y="856.15" font-size="19.25" fill="#111" stroke="#111" stroke-width="0.35">HighEduc</text>
<rect x="407.60" y="865.50" width="14.00" height="11.20" fill="#984EA3" stroke="#111" stroke-width="1.3"/>
<text x="438.90" y="877.30" font-size="19.25" fill="#111" stroke="#111" stroke-width="0.35">Work</text>
<rect x="407.60" y="886.65" width="14.00" height="11.20" fill="#FFFF33" stroke="#111" stroke-width="1.3"/>
<text x="438.90" y="898.45" font-size="19.25" fill="#111" stroke="#111" stroke-width="0.35">WorkHighEduc</text>
<rect x="407.60" y="907.80" width="14.00" height="11.20" fill="#A65628" stroke="#111" stroke-width="1.3"/>
<text x="438.90" y="919.60" font-size="19.25" fill="#111" stroke="#111" stroke-width="0.35">LeaveUnion</text>
<rect x="407.60" y="928.95" width="14.00" height="11.20" fill="#999999" stroke="#111" stroke-width="1.3"/>
<text x="438.90" y="940.75" font-size="19.25" fill="#111" stroke="#111" stroke-width="0.35">LeaveUnionHighEduc</text>
<rect x="407.60" y="950.10" width="14.00" height="11.20" fill="#8DD3C7" stroke="#111" stroke-width="1.3"/>
<text x="438.90" y="961.90" font-size="19.25" fill="#111" stroke="#111" stroke-width="0.35">LeaveUnionWork</text>
<rect x="407.60" y="971.25" width="14.00" height="11.20" fill="#BEBADA" stroke="#111" stroke-width="1.3"/>
<text x="438.90" y="983.05" font-size="19.25" fill="#111" stroke="#111" stroke-width="0.35">LeaveUnionWorkHighEduc</text>
<rect x="407.60" y="992.40" width="14.00" height="11.20" fill="#FB8072" stroke="#111" stroke-width="1.3"/>
<text x="438.90" y="1004.20" font-size="19.25" fill="#111" stroke="#111" stroke-width="0.35">LeaveOther</text>
<rect x="407.60" y="1013.55" width="14.00" height="11.20" fill="#FDB462" stroke="#111" stroke-width="1.3"/>
<text x="438.90" y="1025.35" font-size="19.25" fill="#111" stroke="#111" stroke-width="0.35">LeaveOtherHighEduc</text>
<rect x="407.60" y="1034.70" width="14.00" height="11.20" fill="#B3DE69" stroke="#111" stroke-width="1.3"/>
<text x="438.90" y="1046.50" font-size="19.25" fill="#111" stroke="#111" stroke-width="0.35">LeaveOtherWork</text>
<rect x="407.60" y="1055.85" width="14.00" height="11.20" fill="#D9D9D9" stroke="#111" stroke-width="1.3"/>
<text x="438.90" y="1067.65" font-size="19.25" fill="#111" stroke="#111" stroke-width="0.35">LeaveOtherWorkHighEduc</text></g>

</svg>
</body></html>
